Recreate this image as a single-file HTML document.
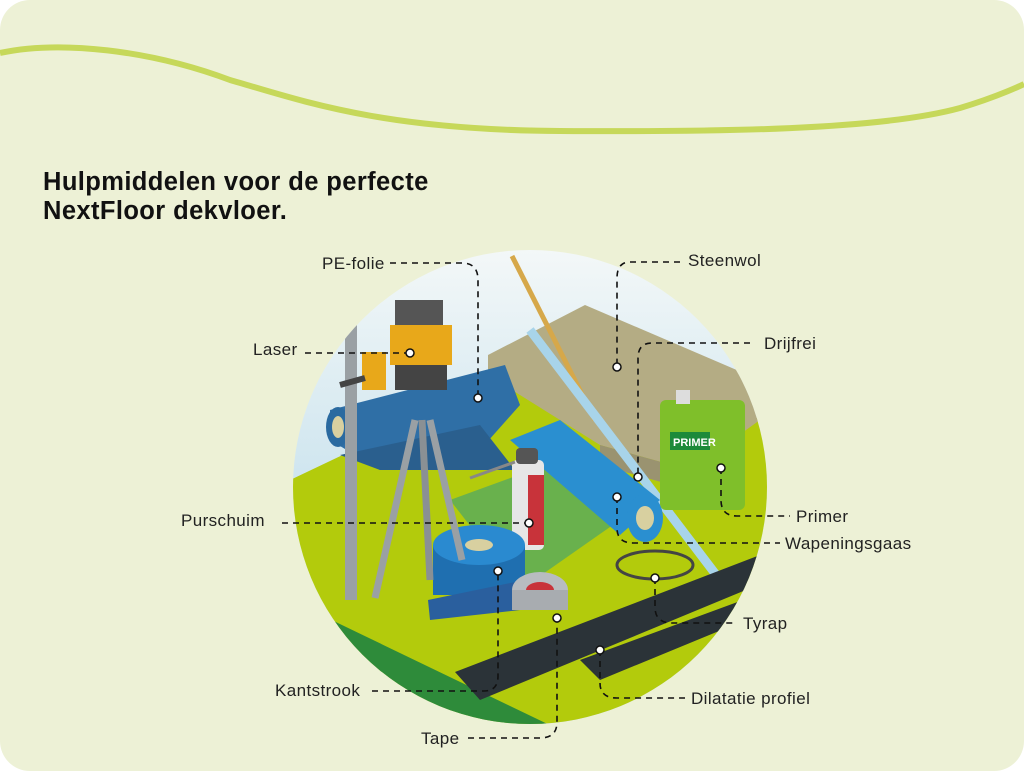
<!DOCTYPE html>
<html><head><meta charset="utf-8"><style>
html,body{margin:0;padding:0;background:#fff;}
body{width:1024px;height:771px;overflow:hidden;position:relative;font-family:"Liberation Sans",sans-serif;}
.card{position:absolute;left:0;top:0;width:1024px;height:771px;background:#edf1d6;border-radius:30px;}
h1{position:absolute;left:43px;top:168px;margin:0;font-size:25.5px;line-height:29px;font-weight:bold;color:#111;letter-spacing:0.4px;}
</style></head><body>
<div class="card"></div>
<svg width="1024" height="771" style="position:absolute;left:0;top:0">
<path d="M0,53 C60,40 150,50 230,80 C300,100 380,130 560,131 C720,132 880,130 960,108 C1000,96 1024,84 1024,84" fill="none" stroke="#c6d85a" stroke-width="6"/>
<defs><clipPath id="c"><circle cx="530" cy="487" r="237"/></clipPath>
<linearGradient id="sky" x1="0" y1="0" x2="0" y2="1"><stop offset="0" stop-color="#f4f8f8"/><stop offset="1" stop-color="#a8d2e6"/></linearGradient></defs>
<g clip-path="url(#c)">
<rect x="290" y="245" width="480" height="480" fill="url(#sky)"/>
<polygon points="290,480 500,380 770,420 770,730 290,730" fill="#b3cb0c"/>
<polygon points="290,600 560,730 290,730" fill="#2e8b3a"/>
<polygon points="488,355 585,305 760,380 760,420 690,470 600,445 488,375" fill="#b4ac84"/>
<polygon points="600,445 690,470 690,490 600,465" fill="#9a9370"/>
<polygon points="330,410 505,365 520,405 480,450 380,470 330,440" fill="#2f6fa6"/>
<polygon points="340,455 480,425 515,470 380,470" fill="#2a5f8e"/>
<ellipse cx="338" cy="427" rx="12" ry="20" fill="#2a6aa0"/><ellipse cx="338" cy="427" rx="6" ry="11" fill="#d8d0a0"/>
<line x1="512" y1="256" x2="595" y2="420" stroke="#d6a84a" stroke-width="5"/>
<line x1="530" y1="330" x2="720" y2="580" stroke="#a8d4ea" stroke-width="9"/>
<rect x="660" y="400" width="85" height="110" rx="6" fill="#7fbf2a"/>
<rect x="676" y="390" width="14" height="14" fill="#ddd"/>
<rect x="670" y="432" width="40" height="18" fill="#1c8a3a"/>
<text x="673" y="446" font-size="11" font-weight="bold" fill="#fff">PRIMER</text>
<polygon points="450,500 560,460 620,520 520,590" fill="#4aa56a" opacity="0.7"/>
<polygon points="510,440 560,420 660,500 620,535" fill="#2a8fd0"/>
<ellipse cx="645" cy="518" rx="18" ry="24" fill="#2a8fd0"/><ellipse cx="645" cy="518" rx="9" ry="12" fill="#d8d0a0"/>
<rect x="512" y="460" width="32" height="90" rx="5" fill="#e6e6e6"/>
<rect x="528" y="475" width="16" height="70" fill="#c8333a"/>
<rect x="516" y="448" width="22" height="16" rx="4" fill="#555"/>
<line x1="470" y1="478" x2="515" y2="462" stroke="#888" stroke-width="3"/>
<rect x="433" y="545" width="92" height="50" fill="#1f6fb0"/>
<ellipse cx="479" cy="545" rx="46" ry="20" fill="#2a8ad0"/><ellipse cx="479" cy="545" rx="14" ry="6" fill="#d8d0a0"/>
<polygon points="428,600 525,580 520,610 430,620" fill="#2a5f9e"/>
<ellipse cx="540" cy="590" rx="28" ry="18" fill="#b8bcc0"/><ellipse cx="540" cy="590" rx="14" ry="8" fill="#c8333a"/>
<rect x="512" y="590" width="56" height="20" fill="#a8acb0"/>
<ellipse cx="655" cy="565" rx="38" ry="14" fill="none" stroke="#444" stroke-width="3"/>
<polygon points="455,672 760,555 770,580 480,700" fill="#2b3338"/>
<polygon points="580,660 770,590 770,610 600,680" fill="#2b3338"/>
<rect x="345" y="325" width="12" height="275" fill="#9aa0a4"/>
<line x1="415" y1="420" x2="375" y2="598" stroke="#9aa0a4" stroke-width="7"/>
<line x1="422" y1="420" x2="430" y2="580" stroke="#8a9094" stroke-width="7"/>
<line x1="430" y1="420" x2="462" y2="560" stroke="#9aa0a4" stroke-width="7"/>
<rect x="395" y="300" width="48" height="30" fill="#555"/>
<rect x="390" y="325" width="62" height="40" fill="#e8a81a"/>
<rect x="395" y="365" width="52" height="25" fill="#444"/>
<rect x="362" y="352" width="24" height="38" fill="#e8a81a"/>
<line x1="340" y1="385" x2="365" y2="378" stroke="#444" stroke-width="6"/>
</g>
<g fill="none" stroke="#111" stroke-width="1.6" stroke-dasharray="6,5">
<path d="M390,263 H462 Q478,263 478,280 V398"/>
<path d="M305,353 H410"/>
<path d="M680,262 H630 Q617,262 617,278 V367"/>
<path d="M750,343 H652 Q638,343 638,358 V477"/>
<path d="M721,468 V500 Q721,516 737,516 H790"/>
<path d="M282,523 H529"/>
<path d="M617,497 V528 Q617,543 633,543 H780"/>
<path d="M655,578 V607 Q655,623 672,623 H735"/>
<path d="M600,650 V683 Q600,698 617,698 H685"/>
<path d="M372,691 H484 Q498,691 498,676 V571"/>
<path d="M468,738 H540 Q557,738 557,722 V618"/>
</g>
<g fill="#fff" stroke="#111" stroke-width="1.5">
<circle cx="478" cy="398" r="4"/><circle cx="410" cy="353" r="4"/><circle cx="617" cy="367" r="4"/>
<circle cx="638" cy="477" r="4"/><circle cx="721" cy="468" r="4"/><circle cx="529" cy="523" r="4"/>
<circle cx="617" cy="497" r="4"/><circle cx="655" cy="578" r="4"/><circle cx="600" cy="650" r="4"/>
<circle cx="498" cy="571" r="4"/><circle cx="557" cy="618" r="4"/>
</g>
<g font-size="17" fill="#222" font-family="Liberation Sans,sans-serif" letter-spacing="0.4">
<text x="322" y="269">PE-folie</text>
<text x="253" y="355">Laser</text>
<text x="688" y="266">Steenwol</text>
<text x="764" y="349">Drijfrei</text>
<text x="796" y="522">Primer</text>
<text x="181" y="526">Purschuim</text>
<text x="785" y="549">Wapeningsgaas</text>
<text x="743" y="629">Tyrap</text>
<text x="691" y="704">Dilatatie profiel</text>
<text x="275" y="696">Kantstrook</text>
<text x="421" y="744">Tape</text>
</g>
</svg>
<h1>Hulpmiddelen voor de perfecte<br>NextFloor dekvloer.</h1>
</body></html>
